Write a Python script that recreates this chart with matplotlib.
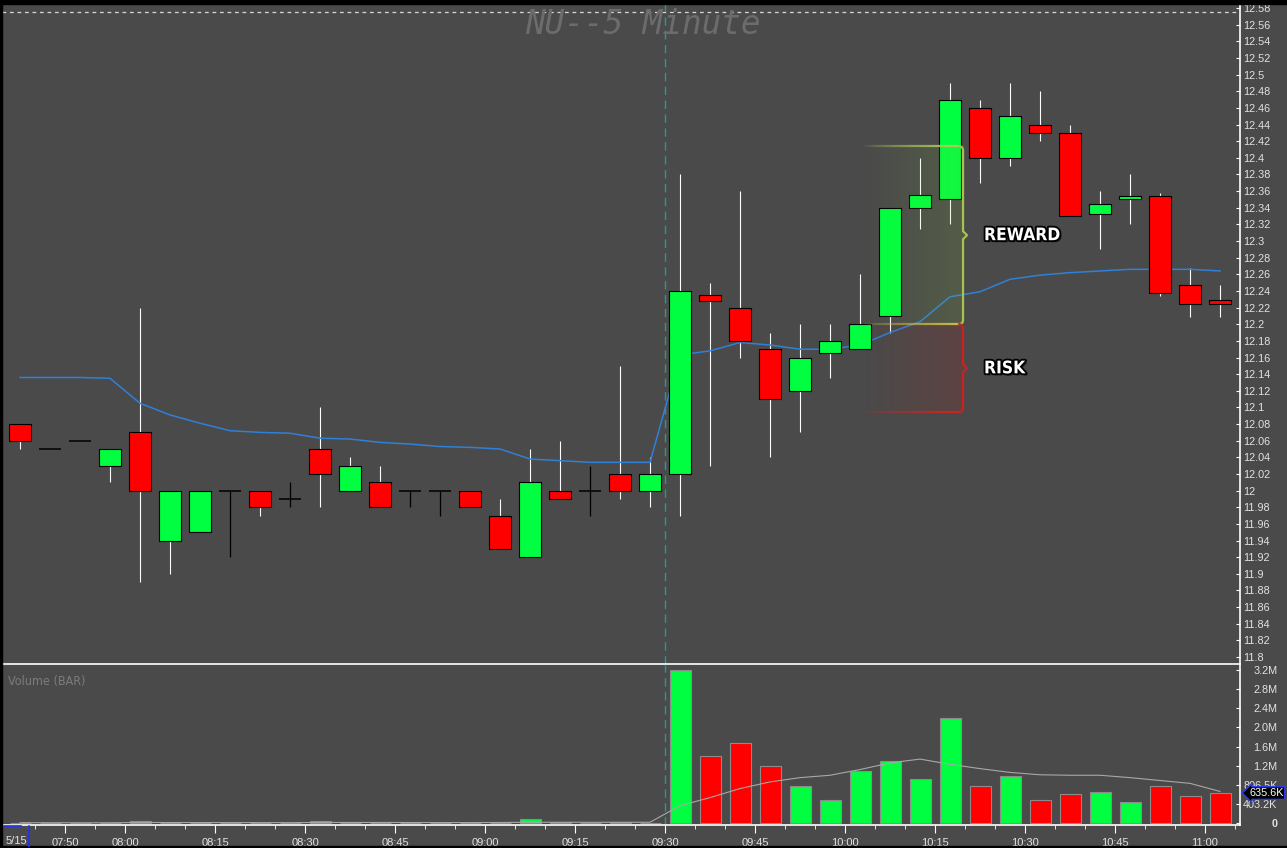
import numpy as np
import matplotlib
matplotlib.use("Agg")
import matplotlib.pyplot as plt
from matplotlib.patches import Rectangle
from matplotlib.collections import LineCollection
from matplotlib import font_manager as fm
import matplotlib.patheffects as pe

# ---------------- data ----------------
bar_times = ["07:40", "07:45", "07:50", "07:55", "08:00", "08:05", "08:10", "08:15",
             "08:20", "08:25", "08:30", "08:35", "08:40", "08:45", "08:50", "08:55",
             "09:00", "09:05", "09:10", "09:15", "09:20", "09:25", "09:30", "09:35",
             "09:40", "09:45", "09:50", "09:55", "10:00", "10:05", "10:10", "10:15",
             "10:20", "10:25", "10:30", "10:35", "10:40", "10:45", "10:50", "10:55",
             "11:00"]
opens = [12.08, 12.05, 12.06, 12.03, 12.07, 11.94, 11.95, 12.00, 12.00, 11.99, 12.05,
         12.00, 12.01, 12.00, 12.00, 12.00, 11.97, 11.92, 12.00, 12.00, 12.02, 12.00,
         12.02, 12.235, 12.22, 12.17, 12.12, 12.165, 12.17, 12.21, 12.34, 12.35,
         12.46, 12.40, 12.44, 12.43, 12.333, 12.35, 12.354, 12.247, 12.229]
highs = [12.08, 12.05, 12.06, 12.05, 12.22, 12.00, 12.00, 12.00, 12.00, 12.01, 12.10,
         12.04, 12.03, 12.00, 12.00, 12.00, 11.99, 12.05, 12.06, 12.03, 12.15, 12.04,
         12.38, 12.25, 12.36, 12.19, 12.20, 12.20, 12.26, 12.34, 12.40, 12.49,
         12.47, 12.49, 12.48, 12.44, 12.36, 12.38, 12.358, 12.267, 12.247]
lows = [12.05, 12.05, 12.06, 12.01, 11.89, 11.90, 11.95, 11.92, 11.97, 11.98, 11.98,
        12.00, 11.98, 11.98, 11.97, 11.98, 11.93, 11.92, 11.99, 11.97, 11.99, 11.98,
        11.97, 12.03, 12.16, 12.04, 12.07, 12.135, 12.17, 12.19, 12.315, 12.32,
        12.37, 12.39, 12.42, 12.33, 12.29, 12.32, 12.234, 12.209, 12.209]
closes = [12.06, 12.05, 12.06, 12.05, 12.00, 12.00, 12.00, 12.00, 11.98, 11.99, 12.02,
          12.03, 11.98, 12.00, 12.00, 11.98, 11.93, 12.01, 11.99, 12.00, 12.00, 12.02,
          12.24, 12.228, 12.18, 12.11, 12.16, 12.18, 12.20, 12.34, 12.355, 12.47,
          12.40, 12.45, 12.43, 12.33, 12.344, 12.354, 12.238, 12.224, 12.224]
vwap = [12.136, 12.136, 12.136, 12.135, 12.105, 12.091, 12.081, 12.072, 12.070, 12.069,
        12.063, 12.062, 12.058, 12.056, 12.053, 12.052, 12.050, 12.038, 12.036, 12.034,
        12.034, 12.034, 12.163, 12.168, 12.178, 12.175, 12.170, 12.170, 12.175, 12.190,
        12.203, 12.233, 12.239, 12.254, 12.259, 12.262, 12.264, 12.266, 12.266, 12.266,
        12.264]
volume_m = [0.010, 0.008, 0.008, 0.012, 0.045, 0.015, 0.010, 0.008, 0.010, 0.006, 0.045,
            0.010, 0.012, 0.006, 0.006, 0.010, 0.015, 0.085, 0.020, 0.010, 0.020, 0.010,
            3.22, 1.42, 1.69, 1.21, 0.79, 0.50, 1.11, 1.30, 0.94, 2.21, 0.79, 1.00,
            0.50, 0.61, 0.65, 0.44, 0.79, 0.58, 0.6356]
volume_avg_m = [0.012, 0.012, 0.011, 0.011, 0.017, 0.017, 0.016, 0.015, 0.015, 0.014,
                0.018, 0.018, 0.018, 0.017, 0.016, 0.016, 0.017, 0.022, 0.022, 0.021,
                0.022, 0.022, 0.37, 0.54, 0.73, 0.87, 0.96, 1.01, 1.13, 1.27, 1.35,
                1.24, 1.15, 1.07, 1.02, 1.01, 1.01, 0.96, 0.90, 0.84, 0.67]

price_ticks = [11.80, 11.82, 11.84, 11.86, 11.88, 11.90, 11.92, 11.94, 11.96, 11.98,
               12.00, 12.02, 12.04, 12.06, 12.08, 12.10, 12.12, 12.14, 12.16, 12.18,
               12.20, 12.22, 12.24, 12.26, 12.28, 12.30, 12.32, 12.34, 12.36, 12.38,
               12.40, 12.42, 12.44, 12.46, 12.48, 12.50, 12.52, 12.54, 12.56, 12.58]
vol_tick_labels = ["0", "403.2K", "806.5K", "1.2M", "1.6M", "2.0M", "2.4M", "2.8M", "3.2M"]
vol_axis_max_m = 3.2258
time_tick_labels = ["07:50", "08:00", "08:15", "08:30", "08:45", "09:00", "09:15",
                    "09:30", "09:45", "10:00", "10:15", "10:30", "10:45", "11:00"]
date_label = "5/15"
session_open = "09:30"
day_high_line = 12.575
entry_price = 12.20
target_price = 12.414
stop_price = 12.094
box_start, box_end = "10:02", "10:20"
title = "NU--5 Minute"

# ---------------- style ----------------
BG = "#4a4a4a"
GREEN = "#00ff40"
RED = "#ff0000"
TXT = "#e2e2e2"
W, H = 1287, 848


def find_narrow(bold):
    want = 700 if bold else 400
    best = None
    for f in fm.fontManager.ttflist:
        nm = f.name.lower()
        narrow = ("narrow" in nm or "condensed" in nm or
                  str(f.stretch) in ("condensed", "semi-condensed", "extra-condensed"))
        if not narrow:
            continue
        try:
            wt = int(f.weight)
        except (TypeError, ValueError):
            wt = 700 if "bold" in str(f.weight).lower() else 400
        if "oblique" in f.style or "italic" in f.style:
            continue
        score = abs(wt - want)
        if "liberation" in nm or "arial" in nm:
            score -= 50
        if best is None or score < best[0]:
            best = (score, f.fname)
    if best is not None:
        return fm.FontProperties(fname=best[1])
    return None


narrow_bold = find_narrow(True)
narrow_reg = find_narrow(False)


def tmin(s):
    h, m = s.split(":")
    return int(h) * 60 + int(m)


starts = np.array([tmin(t) for t in bar_times], dtype=float)
centers = starts + 2.5
x_lo, x_hi = 459.5, 665.83

fig = plt.figure(figsize=(W / 100, H / 100), dpi=100, facecolor=BG)


def box(x0, y0, x1, y1):
    return [x0 / W, 1 - y1 / H, (x1 - x0) / W, (y1 - y0) / H]


axp = fig.add_axes(box(2, 4, 1240, 664))
axv = fig.add_axes(box(2, 665, 1240, 825))
for ax in (axp, axv):
    ax.set_facecolor(BG)
    for s in ("left", "top"):
        ax.spines[s].set_visible(False)
    for s in ("right", "bottom"):
        ax.spines[s].set_color("white")
        ax.spines[s].set_linewidth(1.2)
    ax.set_xlim(x_lo, x_hi)

# ---------------- price pane ----------------
axp.set_ylim(11.7916, 12.5849)
bw = 3.67
for xc, o, h, l, c in zip(centers, opens, highs, lows, closes):
    if c == o:
        axp.vlines(xc, l, h, color="black", lw=0.9, zorder=2)
        axp.hlines(o, xc - bw / 2, xc + bw / 2, color="black", lw=1.1, zorder=3)
        continue
    col = GREEN if c > o else RED
    axp.vlines(xc, l, h, color="white", lw=0.8, zorder=2)
    axp.add_patch(Rectangle((xc - bw / 2, min(o, c)), bw, abs(c - o), fc=col,
                            ec="black", lw=0.8, zorder=3))

axp.plot(centers, vwap, color="#2f80d6", lw=1.1, zorder=2.5)
axp.axhline(day_high_line, color="#d8d8d8", lw=0.9, dashes=(3, 3), zorder=1)
for ax in (axp, axv):
    ax.axvline(tmin(session_open), color="#229a9a", lw=1.0, dashes=(6, 4), zorder=1)

# reward / risk boxes
xl, xr = tmin(box_start) + 0.8, tmin(box_end) - 0.33
pxx, pxy = 1 / 6, 1 / 832


def grad_fill(y0, y1, rgb, amax):
    g = np.zeros((2, 80, 4))
    g[..., :3] = rgb
    g[..., 3] = np.linspace(0.0, amax, 80)[None, :]
    axp.imshow(g, extent=(xl, xr, y0, y1), aspect="auto", origin="lower",
               interpolation="bilinear", zorder=4)


def fade_line(yv, rgb, lw=1.6):
    n = 40
    xs = np.linspace(xl, xr - 4 * pxx, n + 1)
    segs = [[(xs[k], yv), (xs[k + 1], yv)] for k in range(n)]
    cols = [(*rgb, a) for a in np.linspace(0.0, 1.0, n) ** 0.7]
    axp.add_collection(LineCollection(segs, colors=cols, linewidths=lw, zorder=5))


def brace(y_top, y_bot, color):
    r = 4
    mid = (y_top + y_bot) / 2
    t = np.linspace(0, np.pi / 2, 8)
    top_arc = [(xr - r * pxx + r * pxx * np.sin(a), y_top - r * pxy + r * pxy * np.cos(a)) for a in t]
    bot_arc = [(xr - r * pxx + r * pxx * np.cos(a), y_bot + r * pxy - r * pxy * np.sin(a)) for a in t]
    pts = top_arc + [(xr, mid + 4 * pxy), (xr + 4 * pxx, mid), (xr, mid - 4 * pxy)] + bot_arc
    xs, ys = zip(*pts)
    axp.plot(xs, ys, color=color, lw=1.6, zorder=5, solid_capstyle="round")


grad_fill(entry_price, target_price, (0.55, 0.78, 0.25), 0.15)
grad_fill(stop_price, entry_price, (0.75, 0.12, 0.12), 0.17)
fade_line(target_price, (0.68, 0.80, 0.35))
fade_line(entry_price, (0.80, 0.74, 0.25))
fade_line(stop_price, (0.80, 0.15, 0.15))
brace(target_price, entry_price, "#a8c24e")
brace(entry_price, stop_price, "#c82222")

lab_fx = [pe.SimplePatchShadow(offset=(1.5, -1.5), shadow_rgbFace="black", alpha=0.6),
          pe.withStroke(linewidth=2.6, foreground="black")]
for txt, yv in (("REWARD", (target_price + entry_price) / 2), ("RISK", (entry_price + stop_price) / 2)):
    kw = dict(color="white", va="center", ha="left", zorder=6, path_effects=lab_fx)
    if narrow_bold is not None:
        fp = narrow_bold.copy()
        fp.set_size(12.5)
        fp.set_weight("bold")
        axp.text(xr + 3.5, yv, txt, fontproperties=fp, **kw)
    else:
        axp.text(xr + 3.5, yv, txt, fontsize=10.5, fontweight="bold", family="DejaVu Sans", **kw)

axp.yaxis.tick_right()
axp.set_yticks(price_ticks)
axp.set_yticklabels([f"{v:g}" for v in price_ticks])
axp.tick_params(axis="y", direction="in", length=3, color="white", labelcolor=TXT,
                labelsize=7.8, pad=2)
axp.set_xticks([])
for lbl in axp.get_yticklabels():
    lbl.set_family("Liberation Sans")

# ---------------- volume pane ----------------
vol_cols = [GREEN if c > o else (RED if c < o else "#8a8a8a") for o, c in zip(opens, closes)]
axv.bar(centers, np.array(volume_m) * 1e6, width=3.5, color=vol_cols, edgecolor="#8c8c8c",
        lw=0.8, zorder=2)
axv.plot(centers, np.array(volume_avg_m) * 1e6, color="#a8a8a8", lw=0.8, zorder=3)
axv.set_ylim(-0.0355e6, 3.328e6)
axv.yaxis.tick_right()
vt = [vol_axis_max_m * 1e6 * k / 8 for k in range(9)]
axv.set_yticks(vt)
axv.set_yticklabels(vol_tick_labels)
axv.tick_params(axis="y", direction="in", length=3, color="white", labelcolor=TXT,
                labelsize=7.8, pad=27)
for lbl in axv.get_yticklabels():
    lbl.set_horizontalalignment("right")
    lbl.set_family("Liberation Sans")
axv.get_yticklabels()[0].set_fontweight("bold")

axv.set_xticks([tmin(t) for t in time_tick_labels])
axv.set_xticklabels(time_tick_labels)
axv.set_xticks(np.arange(465, 666, 5), minor=True)
axv.tick_params(axis="x", which="major", direction="out", length=6, color="white",
                labelcolor=TXT, labelsize=8, pad=3)
axv.tick_params(axis="x", which="minor", direction="out", length=3, color="white")
for lbl in axv.get_xticklabels():
    lbl.set_family("Liberation Sans")

axv.annotate(f"{volume_m[-1] * 1000:.1f}K", xy=(1, volume_m[-1] * 1e6),
             xycoords=("axes fraction", "data"), xytext=(9, 0), textcoords="offset pixels",
             color="white", fontsize=7.8, family="Liberation Sans", va="center", ha="left",
             bbox=dict(boxstyle="larrow,pad=0.12", fc="black", ec="#2a3cf0", lw=1.0),
             annotation_clip=False, zorder=10)

if narrow_reg is not None:
    fpv = narrow_reg.copy()
    fpv.set_size(9)
    fig.text(8 / W, 1 - 681 / H, "Volume (BAR)", color="#7c7c7c", fontproperties=fpv,
             va="center", ha="left")
else:
    fig.text(8 / W, 1 - 681 / H, "Volume (BAR)", color="#7c7c7c", fontsize=8.3,
             family="Liberation Sans", va="center", ha="left")
fig.text(643 / W, 1 - 34 / H, title, color="#6c6c6c", fontsize=23.5,
         family="DejaVu Sans Mono", style="oblique", ha="center", va="baseline")
fig.text(6 / W, 1 - 841 / H, date_label, color=TXT, fontsize=8, family="Liberation Sans",
         ha="left", va="center")

# frame decorations
ov = fig.add_axes([0, 0, 1, 1], zorder=20)
ov.set_xlim(0, W)
ov.set_ylim(H, 0)
ov.axis("off")
ov.patch.set_alpha(0)
ov.add_patch(Rectangle((0, 0), W, 4, color="black"))
ov.add_patch(Rectangle((0, 0), 2, H, color="black"))
ov.add_patch(Rectangle((0, 846), W, 2, color="black"))
ov.plot([4, 21], [826, 826], color="#2030ff", lw=1.2)
ov.plot([29, 29], [826, 846], color="#2030ff", lw=1.2)

fig.savefig("out.png", dpi=100, facecolor=BG)
